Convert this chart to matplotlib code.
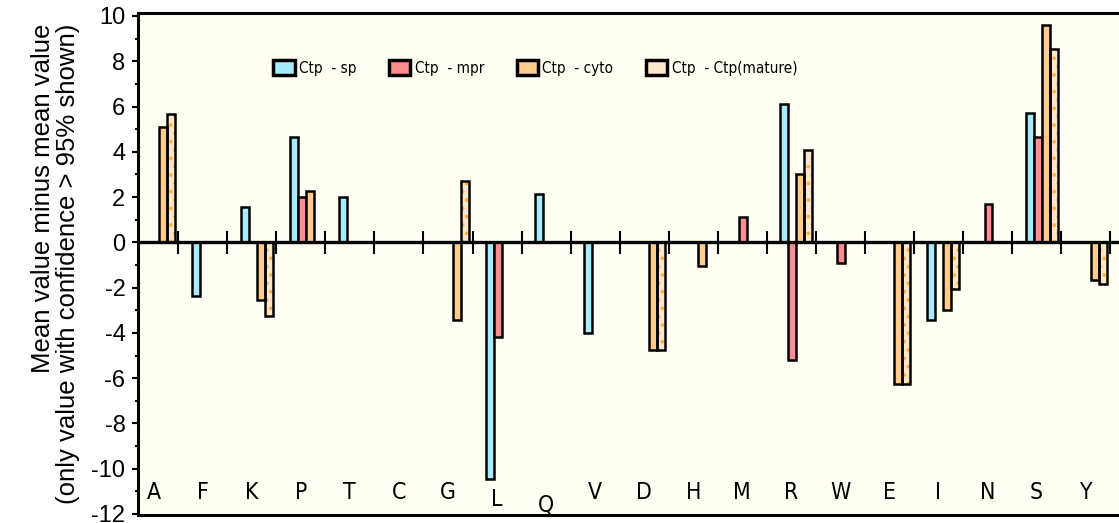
import matplotlib.pyplot as plt
import numpy as np
from matplotlib.patches import Patch

# Residue categories along the x axis
residues = ['A', 'F', 'K', 'P', 'T', 'C', 'G', 'L', 'Q', 'V',
            'D', 'H', 'M', 'R', 'W', 'E', 'I', 'N', 'S', 'Y']

# Mean value minus mean value; None = not significant (confidence <= 95%)
ctp_sp = [None, -2.37, 1.55, 4.65, 2.0, None, None, -10.45, 2.15, -4.0,
          None, None, None, 6.1, None, None, -3.45, None, 5.7, None]
ctp_mpr = [None, None, None, 2.0, None, None, None, -4.2, None, None,
           None, None, 1.1, -5.2, -0.9, None, None, 1.7, 4.65, None]
ctp_cyto = [5.1, None, -2.55, 2.28, None, None, -3.42, None, None, None,
            -4.75, -1.05, None, 3.02, None, -6.25, -3.0, None, 9.6, -1.65]
ctp_mature = [5.65, None, -3.25, None, None, None, 2.7, None, None, None,
              -4.75, None, None, 4.07, None, -6.25, -2.07, None, 8.55, -1.85]

series_names = ['Ctp  - sp', 'Ctp  - mpr', 'Ctp  - cyto', 'Ctp  - Ctp(mature)']

# styling
fill_colors = ['#a8ecfc', '#ff8c90', '#ffcc8c', '#ffe6c8']
hatch_colors = [None, '#ffa8a8', None, '#ffb347']
hatches = [None, None, None, '..']
bar_w = 0.163
bar_start = 0.275
label_drop = {'L': 0.3, 'Q': 0.55}

plt.rcParams['font.family'] = ['Liberation Sans', 'DejaVu Sans']
plt.rcParams['axes.unicode_minus'] = False
plt.rcParams['hatch.linewidth'] = 1.5

fig = plt.figure(figsize=(11.19, 5.23), dpi=100)
ax = fig.add_axes([0.1233, 0.0155, 0.8767, 0.9596])
ax.set_facecolor('#fffff4')

series = [ctp_sp, ctp_mpr, ctp_cyto, ctp_mature]
for j, vals in enumerate(series):
    idx = [i for i, v in enumerate(vals) if v is not None]
    xs = [i + bar_start + bar_w * j for i in idx]
    hs = [vals[i] for i in idx]
    if hatches[j]:
        ax.bar(xs, hs, width=bar_w, align='edge', color=fill_colors[j],
               edgecolor=hatch_colors[j], hatch=hatches[j], linewidth=0, zorder=2)
        ax.bar(xs, hs, width=bar_w, align='edge', facecolor='none',
               edgecolor='black', linewidth=1.8, zorder=3)
    else:
        ax.bar(xs, hs, width=bar_w, align='edge', color=fill_colors[j],
               edgecolor='black', linewidth=1.8, zorder=3)

# zero line with category separators
ax.axhline(0, color='black', linewidth=2.4, zorder=4)
ax.vlines(np.arange(1, len(residues) + 1), -0.5, 0.5, color='black',
          linewidth=1.5, zorder=4)

# residue letters at the bottom of the plot
for i, r in enumerate(residues):
    ax.text(i + 0.5, -11.05 - label_drop.get(r, 0), r, ha='center', va='center',
            fontsize=16.5, family=['DejaVu Sans'], fontstretch='condensed', zorder=5)

ax.set_xlim(0.18, 20.18)
ax.set_ylim(-12.04, 10.13)
ax.set_xticks([])
ax.set_yticks(np.arange(-12, 11, 2))
ax.set_yticks(np.arange(-11, 10, 2), minor=True)
ax.tick_params(axis='y', which='major', labelsize=17, length=4, width=1.5, pad=5)
ax.tick_params(axis='y', which='minor', length=2, width=1.5)

for side in ['top', 'bottom', 'left']:
    ax.spines[side].set_linewidth(2.2)
ax.spines['right'].set_visible(False)

ax.set_ylabel('Mean value minus mean value\n(only value with confidence > 95% shown)',
              fontsize=18.5, labelpad=8, linespacing=1.05, multialignment='right')

handles = []
for j, name in enumerate(series_names):
    handles.append(Patch(facecolor=fill_colors[j], edgecolor='black', linewidth=2.5,
                         label=name))
leg = ax.legend(handles=handles, loc='center', bbox_to_anchor=(0.405, 0.89), ncol=4,
                frameon=False, handlelength=1.4, handleheight=1.1,
                handletextpad=0.3, columnspacing=2.1,
                prop={'family': 'DejaVu Sans', 'stretch': 'condensed', 'size': 11})

fig.savefig('out.png', dpi=100, facecolor='white')
